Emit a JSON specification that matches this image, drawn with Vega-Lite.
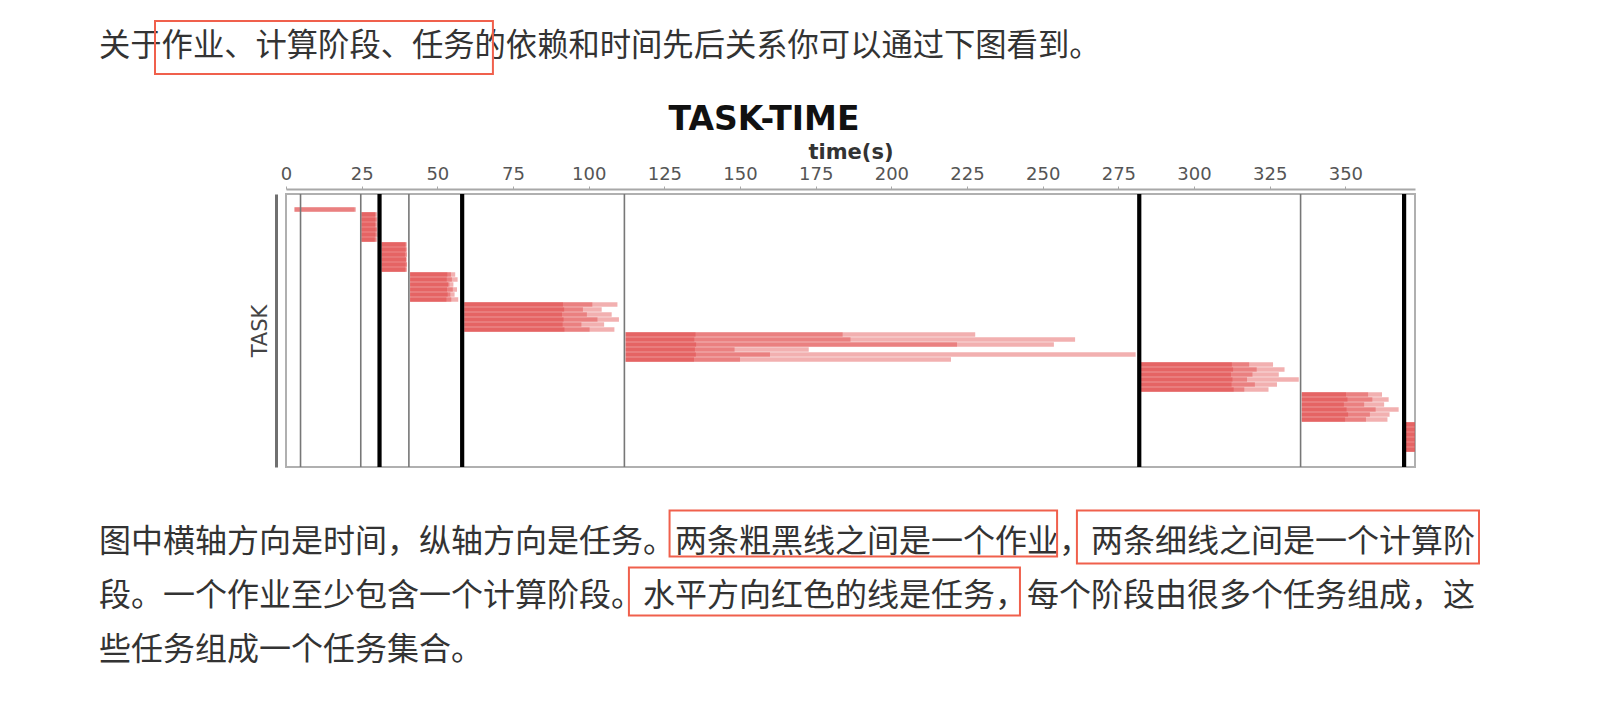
{
  "$schema": "https://vega.github.io/schema/vega-lite/v6.json",
  "autosize": {"type": "none"},
  "width": 1129,
  "height": 273,
  "padding": {"left": 286, "top": 194, "right": 183, "bottom": 239},
  "background": "white",
  "config": {"view": {"stroke": "#b0b0b0", "strokeWidth": 2}},
  "datasets": {
    "tasks": [
      {"stage":1,"row":0,"start":2.8,"end":23.1},{"stage":1,"row":0,"start":2.8,"end":22.7},
      {"stage":2,"row":1,"start":24.9,"end":29.7},{"stage":2,"row":1,"start":24.9,"end":30.1},{"stage":2,"row":1,"start":24.9,"end":29.4},
      {"stage":2,"row":2,"start":24.9,"end":29.5},{"stage":2,"row":2,"start":24.9,"end":30.2},{"stage":2,"row":2,"start":24.9,"end":29.9},
      {"stage":2,"row":3,"start":24.9,"end":29.8},{"stage":2,"row":3,"start":24.9,"end":30.3},{"stage":2,"row":3,"start":24.9,"end":29.4},
      {"stage":2,"row":4,"start":24.9,"end":29.6},{"stage":2,"row":4,"start":24.9,"end":30.0},{"stage":2,"row":4,"start":24.9,"end":30.2},
      {"stage":2,"row":5,"start":24.9,"end":29.9},{"stage":2,"row":5,"start":24.9,"end":29.5},{"stage":2,"row":5,"start":24.9,"end":30.3},
      {"stage":2,"row":6,"start":24.9,"end":29.7},{"stage":2,"row":6,"start":24.9,"end":30.1},{"stage":2,"row":6,"start":24.9,"end":29.3},
      {"stage":3,"row":7,"start":31.6,"end":39.7},{"stage":3,"row":7,"start":31.6,"end":39.9},{"stage":3,"row":7,"start":31.6,"end":39.4},
      {"stage":3,"row":8,"start":31.6,"end":39.5},{"stage":3,"row":8,"start":31.6,"end":40.0},{"stage":3,"row":8,"start":31.6,"end":39.7},
      {"stage":3,"row":9,"start":31.6,"end":39.8},{"stage":3,"row":9,"start":31.6,"end":39.3},{"stage":3,"row":9,"start":31.6,"end":40.0},
      {"stage":3,"row":10,"start":31.6,"end":39.6},{"stage":3,"row":10,"start":31.6,"end":39.9},{"stage":3,"row":10,"start":31.6,"end":39.7},
      {"stage":3,"row":11,"start":31.6,"end":39.9},{"stage":3,"row":11,"start":31.6,"end":39.5},{"stage":3,"row":11,"start":31.6,"end":40.0},
      {"stage":3,"row":12,"start":31.6,"end":39.4},{"stage":3,"row":12,"start":31.6,"end":39.8},{"stage":3,"row":12,"start":31.6,"end":39.9},
      {"stage":4,"row":13,"start":41.0,"end":53.3},{"stage":4,"row":13,"start":41.0,"end":54.5},{"stage":4,"row":13,"start":41.0,"end":55.9},
      {"stage":4,"row":14,"start":41.0,"end":53.1},{"stage":4,"row":14,"start":41.0,"end":54.8},{"stage":4,"row":14,"start":41.0,"end":56.7},
      {"stage":4,"row":15,"start":41.0,"end":53.5},{"stage":4,"row":15,"start":41.0,"end":54.0},{"stage":4,"row":15,"start":41.0,"end":55.3},
      {"stage":4,"row":16,"start":41.0,"end":53.2},{"stage":4,"row":16,"start":41.0,"end":55.1},{"stage":4,"row":16,"start":41.0,"end":56.5},
      {"stage":4,"row":17,"start":41.0,"end":53.4},{"stage":4,"row":17,"start":41.0,"end":54.3},{"stage":4,"row":17,"start":41.0,"end":55.7},
      {"stage":4,"row":18,"start":41.0,"end":53.0},{"stage":4,"row":18,"start":41.0,"end":54.6},{"stage":4,"row":18,"start":41.0,"end":56.9},
      {"stage":5,"row":19,"start":58.9,"end":91.5},{"stage":5,"row":19,"start":58.9,"end":101.2},{"stage":5,"row":19,"start":58.9,"end":109.5},
      {"stage":5,"row":20,"start":58.9,"end":91.9},{"stage":5,"row":20,"start":58.9,"end":98.1},{"stage":5,"row":20,"start":58.9,"end":104.3},
      {"stage":5,"row":21,"start":58.9,"end":91.2},{"stage":5,"row":21,"start":58.9,"end":99.4},{"stage":5,"row":21,"start":58.9,"end":107.6},
      {"stage":5,"row":22,"start":58.9,"end":91.7},{"stage":5,"row":22,"start":58.9,"end":102.9},{"stage":5,"row":22,"start":58.9,"end":110.0},
      {"stage":5,"row":23,"start":58.9,"end":91.4},{"stage":5,"row":23,"start":58.9,"end":97.6},{"stage":5,"row":23,"start":58.9,"end":105.1},
      {"stage":5,"row":24,"start":58.9,"end":92.0},{"stage":5,"row":24,"start":58.9,"end":100.3},{"stage":5,"row":24,"start":58.9,"end":108.5},
      {"stage":6,"row":25,"start":112.2,"end":135.3},{"stage":6,"row":25,"start":112.2,"end":183.9},{"stage":6,"row":25,"start":112.2,"end":227.7},
      {"stage":6,"row":26,"start":112.2,"end":134.9},{"stage":6,"row":26,"start":112.2,"end":186.5},{"stage":6,"row":26,"start":112.2,"end":260.7},
      {"stage":6,"row":27,"start":112.2,"end":135.5},{"stage":6,"row":27,"start":112.2,"end":221.7},{"stage":6,"row":27,"start":112.2,"end":253.7},
      {"stage":6,"row":28,"start":112.2,"end":135.1},{"stage":6,"row":28,"start":112.2,"end":148.2},{"stage":6,"row":28,"start":112.2,"end":172.7},
      {"stage":6,"row":29,"start":112.2,"end":135.4},{"stage":6,"row":29,"start":112.2,"end":159.9},{"stage":6,"row":29,"start":112.2,"end":280.7},
      {"stage":6,"row":30,"start":112.2,"end":134.8},{"stage":6,"row":30,"start":112.2,"end":150.0},{"stage":6,"row":30,"start":112.2,"end":219.7},
      {"stage":7,"row":31,"start":282.5,"end":312.5},{"stage":7,"row":31,"start":282.5,"end":318.2},{"stage":7,"row":31,"start":282.5,"end":326.1},
      {"stage":7,"row":32,"start":282.5,"end":312.9},{"stage":7,"row":32,"start":282.5,"end":320.7},{"stage":7,"row":32,"start":282.5,"end":329.9},
      {"stage":7,"row":33,"start":282.5,"end":312.2},{"stage":7,"row":33,"start":282.5,"end":319.3},{"stage":7,"row":33,"start":282.5,"end":328.0},
      {"stage":7,"row":34,"start":282.5,"end":312.7},{"stage":7,"row":34,"start":282.5,"end":317.5},{"stage":7,"row":34,"start":282.5,"end":334.6},
      {"stage":7,"row":35,"start":282.5,"end":312.4},{"stage":7,"row":35,"start":282.5,"end":320.1},{"stage":7,"row":35,"start":282.5,"end":327.4},
      {"stage":7,"row":36,"start":282.5,"end":313.1},{"stage":7,"row":36,"start":282.5,"end":316.6},{"stage":7,"row":36,"start":282.5,"end":324.6},
      {"stage":8,"row":37,"start":335.6,"end":350.2},{"stage":8,"row":37,"start":335.6,"end":357.5},{"stage":8,"row":37,"start":335.6,"end":362.1},
      {"stage":8,"row":38,"start":335.6,"end":350.7},{"stage":8,"row":38,"start":335.6,"end":358.9},{"stage":8,"row":38,"start":335.6,"end":364.3},
      {"stage":8,"row":39,"start":335.6,"end":349.5},{"stage":8,"row":39,"start":335.6,"end":356.2},{"stage":8,"row":39,"start":335.6,"end":362.8},
      {"stage":8,"row":40,"start":335.6,"end":350.4},{"stage":8,"row":40,"start":335.6,"end":360.0},{"stage":8,"row":40,"start":335.6,"end":367.6},
      {"stage":8,"row":41,"start":335.6,"end":350.9},{"stage":8,"row":41,"start":335.6,"end":358.1},{"stage":8,"row":41,"start":335.6,"end":364.6},
      {"stage":8,"row":42,"start":335.6,"end":349.9},{"stage":8,"row":42,"start":335.6,"end":356.8},{"stage":8,"row":42,"start":335.6,"end":363.9},
      {"stage":9,"row":43,"start":369.9,"end":373.0},{"stage":9,"row":43,"start":369.9,"end":372.8},{"stage":9,"row":43,"start":369.9,"end":372.9},
      {"stage":9,"row":44,"start":369.9,"end":373.0},{"stage":9,"row":44,"start":369.9,"end":372.8},{"stage":9,"row":44,"start":369.9,"end":372.9},
      {"stage":9,"row":45,"start":369.9,"end":373.0},{"stage":9,"row":45,"start":369.9,"end":372.8},{"stage":9,"row":45,"start":369.9,"end":372.9},
      {"stage":9,"row":46,"start":369.9,"end":373.0},{"stage":9,"row":46,"start":369.9,"end":372.8},{"stage":9,"row":46,"start":369.9,"end":372.9},
      {"stage":9,"row":47,"start":369.9,"end":373.0},{"stage":9,"row":47,"start":369.9,"end":372.8},{"stage":9,"row":47,"start":369.9,"end":372.9},
      {"stage":9,"row":48,"start":369.9,"end":373.0},{"stage":9,"row":48,"start":369.9,"end":372.8},{"stage":9,"row":48,"start":369.9,"end":372.9}
    ],
    "boundaries": [
      {"t":4.8,"kind":"stage"},{"t":24.7,"kind":"stage"},{"t":30.9,"kind":"job"},
      {"t":40.6,"kind":"stage"},{"t":58.2,"kind":"job"},{"t":111.8,"kind":"stage"},
      {"t":281.9,"kind":"job"},{"t":335.2,"kind":"stage"},{"t":369.4,"kind":"job"}
    ],
    "intro": [
      {"row":0,"col":0,"text":"关于作业、计算阶段、任务的依赖和时间先后关系你可以通过下图看到。"}
    ],
    "body": [
      {"row":9.167,"col":0,"text":"图中横轴方向是时间，纵轴方向是任务。两条粗黑线之间是一个作业，两条细线之间是一个计算阶"},
      {"row":10.167,"col":0,"text":"段。一个作业至少包含一个计算阶段。水平方向红色的线是任务，每个阶段由很多个任务组成，这"},
      {"row":11.167,"col":0,"text":"些任务组成一个任务集合。"}
    ],
    "boxes": [
      {"c1":1.75,"c2":12.31,"r1":-0.474,"r2":0.507},
      {"c1":17.83,"c2":29.94,"r1":8.591,"r2":9.441},
      {"c1":30.56,"c2":43.125,"r1":8.591,"r2":9.572},
      {"c1":16.56,"c2":28.78,"r1":9.648,"r2":10.535}
    ],
    "titles": [
      {"col":20.78,"row":1.359,"text":"TASK-TIME"}
    ]
  },
  "layer": [
    {
      "layer": [
        {
          "data": {"name": "tasks"},
          "mark": {"type": "rule", "color": "#df3a3a", "opacity": 0.4, "strokeWidth": 4.6},
          "encoding": {
            "x": {"field": "start", "type": "quantitative",
              "scale": {"domain": [0, 373], "nice": false, "zero": false},
              "axis": {"orient": "top", "title": "time(s)", "values": [0,25,50,75,100,125,150,175,200,225,250,275,300,325,350],
                "offset": 5, "grid": false, "domainColor": "#a8a8a8", "domainWidth": 2, "tickColor": "#a8a8a8", "tickSize": 3,
                "labelFont": "DejaVu Sans", "labelFontSize": 18, "labelColor": "#555555", "labelPadding": 3, "labelFlush": false,
                "titleFont": "DejaVu Sans", "titleFontSize": 21, "titleFontWeight": "bold", "titleColor": "#333333", "titlePadding": 3}},
            "x2": {"field": "end"},
            "y": {"field": "row", "type": "quantitative",
              "scale": {"domain": [-3.1, 51.5], "reverse": true, "nice": false, "zero": false},
              "axis": {"title": "TASK", "labels": false, "ticks": false, "grid": false, "offset": 10,
                "domainColor": "#707070", "domainWidth": 3, "minExtent": 0,
                "titleFont": "DejaVu Sans", "titleFontSize": 21, "titleFontWeight": "normal", "titleColor": "#444444", "titlePadding": 6}}
          }
        },
        {
          "data": {"name": "boundaries"},
          "mark": {"type": "rule"},
          "encoding": {
            "x": {"field": "t", "type": "quantitative",
              "scale": {"domain": [0, 373], "nice": false, "zero": false},
              "axis": {"orient": "top", "title": "time(s)", "values": [0,25,50,75,100,125,150,175,200,225,250,275,300,325,350],
                "offset": 5, "grid": false, "domainColor": "#a8a8a8", "domainWidth": 2, "tickColor": "#a8a8a8", "tickSize": 3,
                "labelFont": "DejaVu Sans", "labelFontSize": 18, "labelColor": "#555555", "labelPadding": 3, "labelFlush": false,
                "titleFont": "DejaVu Sans", "titleFontSize": 21, "titleFontWeight": "bold", "titleColor": "#333333", "titlePadding": 3}},
            "color": {"field": "kind", "type": "nominal", "scale": {"domain": ["stage", "job"], "range": ["#777777", "#000000"]}, "legend": null},
            "strokeWidth": {"field": "kind", "type": "ordinal", "scale": {"domain": ["stage", "job"], "range": [1.6, 4.2]}, "legend": null}
          }
        }
      ]
    },
    {
      "layer": [
        {
          "data": {"name": "intro"},
          "mark": {"type": "text", "align": "left", "baseline": "middle", "font": "Noto Sans CJK SC", "fontSize": 31.3, "color": "#333333"},
          "encoding": {
            "x": {"field": "col", "type": "quantitative", "scale": {"domain": [5.84375, 41.125], "nice": false, "zero": false}, "axis": null},
            "y": {"field": "row", "type": "quantitative", "scale": {"domain": [2.7296, 7.7852], "reverse": true, "nice": false, "zero": false}, "axis": null},
            "text": {"field": "text"}
          }
        },
        {
          "data": {"name": "body"},
          "mark": {"type": "text", "align": "left", "baseline": "middle", "font": "Noto Sans CJK SC", "fontSize": 32, "color": "#333333"},
          "encoding": {
            "x": {"field": "col", "type": "quantitative", "scale": {"domain": [5.84375, 41.125], "nice": false, "zero": false}, "axis": null},
            "y": {"field": "row", "type": "quantitative", "scale": {"domain": [2.7296, 7.7852], "reverse": true, "nice": false, "zero": false}, "axis": null},
            "text": {"field": "text"}
          }
        },
        {
          "data": {"name": "titles"},
          "mark": {"type": "text", "align": "center", "baseline": "middle", "font": "DejaVu Sans", "fontWeight": "bold", "fontSize": 33, "color": "#111111"},
          "encoding": {
            "x": {"field": "col", "type": "quantitative", "scale": {"domain": [5.84375, 41.125], "nice": false, "zero": false}, "axis": null},
            "y": {"field": "row", "type": "quantitative", "scale": {"domain": [2.7296, 7.7852], "reverse": true, "nice": false, "zero": false}, "axis": null},
            "text": {"field": "text"}
          }
        },
        {
          "data": {"name": "boxes"},
          "mark": {"type": "rect", "fillOpacity": 0, "stroke": "#f0604c", "strokeWidth": 2},
          "encoding": {
            "x": {"field": "c1", "type": "quantitative", "scale": {"domain": [5.84375, 41.125], "nice": false, "zero": false}, "axis": null},
            "x2": {"field": "c2"},
            "y": {"field": "r1", "type": "quantitative", "scale": {"domain": [2.7296, 7.7852], "reverse": true, "nice": false, "zero": false}, "axis": null},
            "y2": {"field": "r2"}
          }
        }
      ]
    }
  ],
  "resolve": {"scale": {"x": "independent", "y": "independent"}}
}
